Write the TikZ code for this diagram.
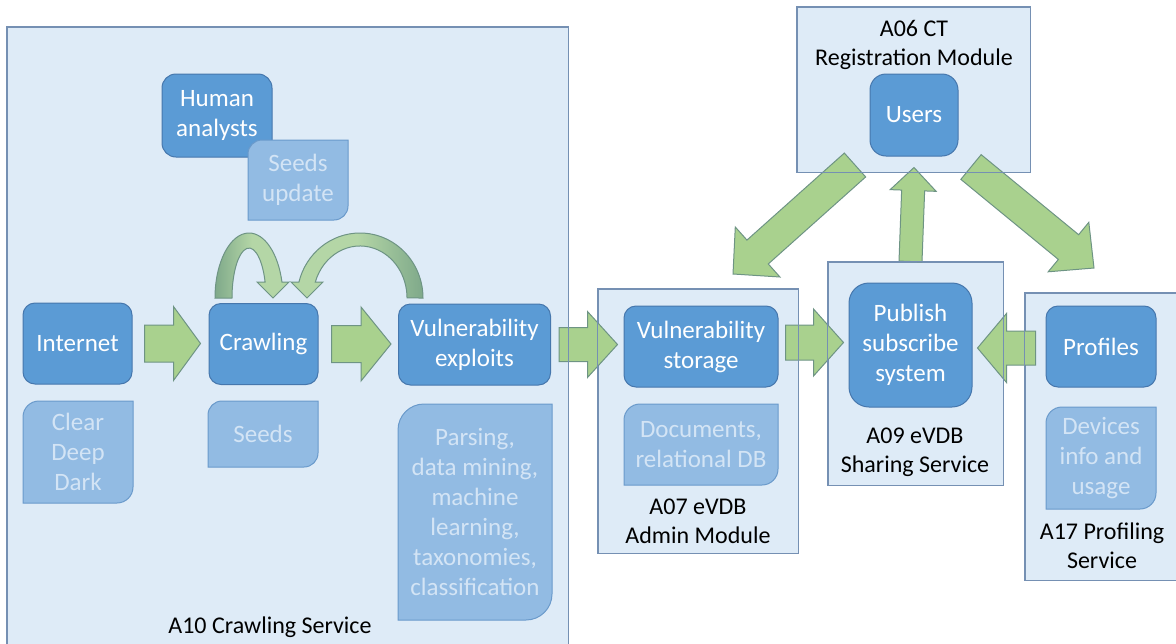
\documentclass[tikz,border=0pt]{standalone}
\usepackage{fontspec}
\setmainfont{Carlito}
\usetikzlibrary{calc}

\definecolor{contfill}{HTML}{DEEBF7}
\definecolor{contline}{HTML}{7590B3}
\definecolor{primfill}{HTML}{5B9BD5}
\definecolor{primline}{HTML}{4677AD}
\definecolor{secfill}{HTML}{92BBE3}
\definecolor{secline}{HTML}{6A9ACB}
\definecolor{sectext}{HTML}{D3E4F5}
\definecolor{arrfill}{HTML}{A9D18E}
\definecolor{arrline}{HTML}{6E9484}
\definecolor{arrdark}{HTML}{7FA98A}
\definecolor{arrlight}{HTML}{B4D6A6}

\tikzset{
  container/.style={draw=contline, fill=contfill, line width=1pt, inner sep=0pt},
  contedge/.style={draw=contline, line width=1pt},
  primbox/.style={draw=primline, fill=primfill, line width=1pt, rounded corners=12pt,
    text=white, align=center, inner sep=0pt},
  secshape/.style={draw=secline, fill=secfill, line width=1pt},
  sectxt/.style={text=sectext, align=center, inner sep=0pt},
  lab/.style={text=black, align=center, inner sep=0pt, font=\fontsize{24}{29}\selectfont},
  blockarrow/.style={draw=arrline, fill=arrfill, line width=1pt, line join=miter},
  curvearrow/.style={draw=arrline, line width=1pt, line join=miter},
}

% block arrow: tail, tip, shaft half width, head half width, head length
\newcommand\BlockArrow[5]{%
  \coordinate (hb) at ($(#2)!#5!(#1)$);
  \draw[blockarrow] ($(#1)!#3!90:(#2)$) -- ($(hb)!#3!90:(#2)$) -- ($(hb)!#4!90:(#2)$)
    -- (#2) -- ($(hb)!#4!-90:(#2)$) -- ($(hb)!#3!-90:(#2)$) -- ($(#1)!#3!-90:(#2)$) -- cycle;}

% box with rounded top-left and bottom-right corners: name, x1, y1, x2, y2, radius, text
\newcommand\DiagBox[7]{%
  \draw[secshape] (#2,#5) -- (#2,#3+#6) arc[start angle=180, end angle=270, radius=#6]
    -- (#4,#3) -- (#4,#5-#6) arc[start angle=0, end angle=90, radius=#6] -- cycle;
  \node[sectxt] (#1) at ({(#2+#4)/2},{(#3+#5)/2}) {#7};}

\begin{document}
\begin{tikzpicture}[x=1pt, y=-1pt, font=\fontsize{25}{30}\selectfont]
\useasboundingbox (0,0) rectangle (1176,643);
\clip (0,0) rectangle (1176,643);

% service containers
\node[container, minimum width=561, minimum height=633] (a10) at (287.5,343.5) {};
\node[container, minimum width=233, minimum height=165] (a06) at (913.5,89.5) {};
\node[container, minimum width=200, minimum height=264] (a07) at (698,421) {};
\node[container, minimum width=175, minimum height=223] (a09) at (915.5,373.5) {};
\node[container, minimum width=160, minimum height=287] (a17) at (1105,436.5) {};

% container captions
\node[lab] (la10) at (270,627) {A10 Crawling Service};
\node[lab] (la06) at (914,45) {A06 CT\\Registration Module};
\node[lab] (la07) at (698,521) {A07 eVDB\\Admin Module};
\node[lab] (la09) at (915,452) {A09 eVDB\\Sharing Service};
\node[lab] (la17) at (1102,546) {A17 Profiling\\Service};

% main components
\node[primbox, minimum width=110, minimum height=83, rounded corners=14pt] (human) at (217,115.5) {Human\\analysts};
\node[primbox, minimum width=109, minimum height=81] (inet) at (77.5,343.5) {Internet};
\node[primbox, minimum width=109, minimum height=81] (crawl) at (263.5,344) {Crawling};
\node[primbox, minimum width=152, minimum height=81] (vexp) at (474.5,344.5) {Vulnerability\\exploits};
\node[primbox, minimum width=154, minimum height=81] (vstore) at (701,346.5) {Vulnerability\\storage};
\node[primbox, minimum width=123, minimum height=124, rounded corners=20pt] (pubsub) at (910.5,345) {Publish\\subscribe\\system};
\node[primbox, minimum width=110, minimum height=81] (profiles) at (1101,346.5) {Profiles};
\node[primbox, minimum width=88, minimum height=82, rounded corners=16pt] (users) at (914,115) {Users};

% details
\DiagBox{seedsup}{248}{140}{348}{220}{14}{Seeds\\update}
\DiagBox{clear}{23}{401}{133}{503}{16}{Clear\\Deep\\Dark}
\DiagBox{seeds}{208}{401}{318}{467}{14}{Seeds}
\DiagBox{parsing}{398}{404}{552}{620}{26}{Parsing,\\data mining,\\machine\\learning,\\taxonomies,\\classification}
\DiagBox{docs}{624}{404}{778}{485}{16}{Documents,\\relational DB}
\DiagBox{devices}{1046}{407}{1156}{509}{16}{Devices\\info and\\usage}

% flow arrows
\coordinate (t1) at ([xshift=12pt]inet.east);
\coordinate (p1) at ([xshift=-8pt]crawl.west |- t1);
\BlockArrow{t1}{p1}{18.5pt}{37pt}{27pt}
\coordinate (t2) at ([xshift=13pt]crawl.east);
\coordinate (p2) at ([xshift=-7pt]vexp.west |- t2);
\BlockArrow{t2}{p2}{18.5pt}{37pt}{30pt}
\coordinate (t3) at ([xshift=8pt]vexp.east);
\coordinate (p3) at ([xshift=-6pt]vstore.west |- t3);
\BlockArrow{t3}{p3}{17pt}{33pt}{30pt}
\coordinate (t4) at ([xshift=7pt,yshift=4pt]vstore.east);
\coordinate (p4) at ([xshift=-5pt]pubsub.west |- t4);
\BlockArrow{t4}{p4}{17.5pt}{33.5pt}{30pt}
\coordinate (t5) at ([xshift=-10pt,yshift=-1.5pt]profiles.west);
\coordinate (p5) at ([xshift=5pt]pubsub.east |- t5);
\BlockArrow{t5}{p5}{17pt}{34.5pt}{29pt}
\coordinate (t6) at (pubsub.north |- a09.north);
\coordinate (p6) at ([yshift=-11pt]users.south);
\BlockArrow{t6}{p6}{11.5pt}{23pt}{23pt}
\coordinate (t7) at (855,165);
\coordinate (p7) at (733,274);
\BlockArrow{t7}{p7}{16pt}{33.5pt}{33pt}
\coordinate (t8) at (971,167);
\coordinate (p8) at (1094,268);
\BlockArrow{t8}{p8}{16pt}{32pt}{33pt}

% feedback loops onto the crawler: rising leg darker, descending leg and head lighter
\draw[curvearrow, left color=arrdark, right color=arrlight, middle color=arrlight]
  (215,298) arc[start angle=180, end angle=345.8, x radius=34, y radius=65]
  -- (289,282) -- (273,298) -- (257,282) -- (265.1,282)
  arc[start angle=341.3, end angle=180, x radius=17, y radius=50] -- cycle;
\draw[curvearrow, left color=arrlight, right color=arrdark, middle color=arrlight]
  (423,298) arc[start angle=360, end angle=194.2, x radius=63, y radius=65]
  -- (291,282) -- (307,298) -- (323,282) -- (315.3,282)
  arc[start angle=197.9, end angle=360, x radius=47, y radius=52] -- cycle;

% container outlines stay visible across the arrows
\foreach \c in {a10,a06,a07,a09,a17}
  \draw[contedge] (\c.north west) rectangle (\c.south east);
\end{tikzpicture}
\end{document}
